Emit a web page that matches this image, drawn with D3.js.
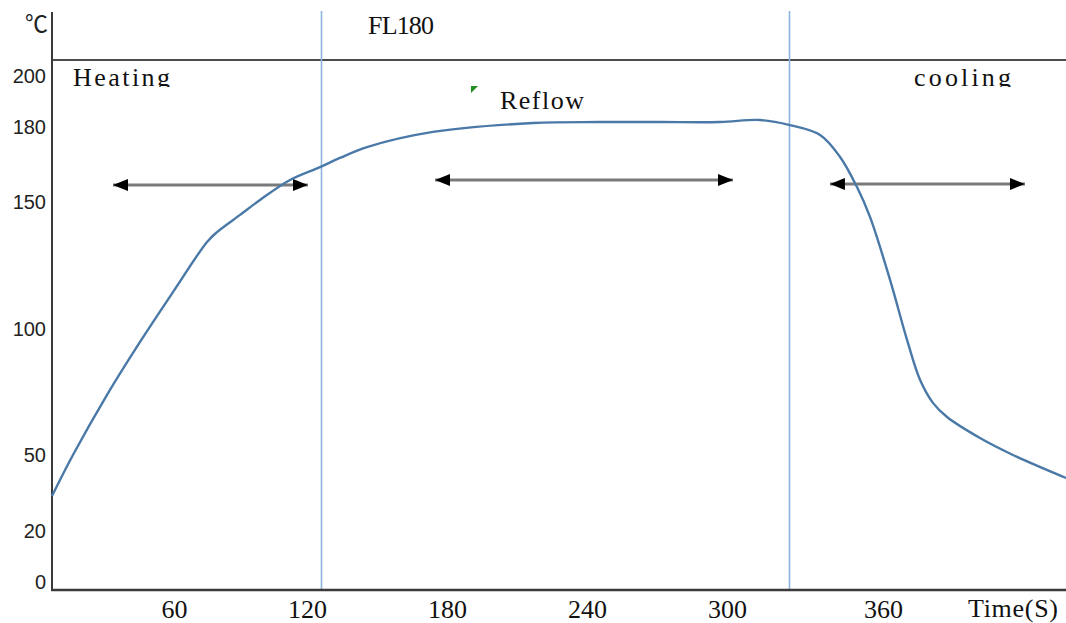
<!DOCTYPE html>
<html>
<head>
<meta charset="utf-8">
<script src="https://cdn.jsdelivr.net/npm/d3@7"></script>
<style>
    body { margin: 0; background: #fff; }
    svg { display: block; }
    .note { font-family: "Liberation Serif", "Times New Roman", serif; fill: #111; }
</style>
</head>
<body>
<div id="chart"></div>
<script>
// time (s) of the reflow profile and measured temperature (°C)
const timeSec = [0, 10.3, 27, 43.3, 59.5, 74.9, 79.4, 89.8, 98.8, 112.3, 125.6, 134.1, 145.7, 174,
    216.9, 245.6, 271.3, 297, 312.7, 324.2, 335.8, 343.5, 350, 355, 362.7, 369.2, 374.2, 379.1,
    384.5, 397.1, 409.7, 430];
const tempC = [34, 50.2, 73.9, 94.9, 114.6, 134.4, 138.3, 145.1, 151, 158.9, 164, 167.6, 171.9, 177.9,
    181.4, 181.8, 181.8, 181.8, 182.6, 180.6, 176.7, 168, 156.1, 144.3, 119.4, 95.7, 79.8, 70.8,
    65.2, 56.9, 50.2, 41.1];

const xTicks = [60, 120, 180, 240, 300, 360];
const yTicks = [0, 20, 50, 100, 150, 180, 200];

// zone boundaries (s)
const zoneBounds = [126, 324];

// zone arrows: start, end (s) and level (°C)
const arrowStart = [30, 174.9, 339.6];
const arrowEnd = [120.4, 302.3, 414.3];
const arrowLevel = [156.9, 158.9, 157.3];

const zoneNames = ["Heating", "Reflow", "cooling"];

const config = {
    width: 1066,
    height: 623,
    left: 52,
    bottom: 590,
    axisTop: 12,
    headLine: 60
};
const { width, height, left, bottom, axisTop, headLine } = config;

const svg = d3.select("#chart").append("svg")
    .attr("width", width)
    .attr("height", height);

// the original time axis is not evenly spaced, so the scale is piecewise
const x = d3.scaleLinear()
    .domain([0, 60, 120, 180, 240, 300, 360, 430])
    .range([52, 174, 307, 447, 587, 727, 883, 1066]);

const y = d3.scaleLinear()
    .domain([0, 200])
    .range([582, 76]);

// clip for the zone names, which are cut at their baseline in the original
svg.append("clipPath").attr("id", "nameClip")
    .append("rect").attr("x", left).attr("y", headLine).attr("width", width).attr("height", 27);

// frame lines
svg.append("line")
    .attr("x1", left).attr("x2", width).attr("y1", headLine).attr("y2", headLine)
    .attr("stroke", "#111").attr("stroke-width", 1.6);

svg.selectAll(".zone-line")
    .data(zoneBounds)
    .join("line")
    .attr("class", "zone-line")
    .attr("x1", d => Math.round(x(d)) + 0.5).attr("x2", d => Math.round(x(d)) + 0.5)
    .attr("y1", 11).attr("y2", bottom)
    .attr("stroke", "#8cb4df").attr("stroke-width", 1.6);

svg.append("line")
    .attr("x1", left).attr("x2", left).attr("y1", axisTop).attr("y2", bottom + 1)
    .attr("stroke", "#3a3a3a").attr("stroke-width", 2);

svg.append("line")
    .attr("x1", left - 1).attr("x2", width).attr("y1", bottom).attr("y2", bottom)
    .attr("stroke", "#3a3a3a").attr("stroke-width", 2.4);

// axes (labels only)
const yAxis = svg.append("g")
    .attr("transform", `translate(${left - 6},0)`)
    .call(d3.axisLeft(y).tickValues(yTicks).tickSize(0).tickPadding(0));
yAxis.select(".domain").remove();
yAxis.selectAll("text")
    .attr("font-family", "'Liberation Sans', Arial, sans-serif")
    .attr("font-size", 20)
    .attr("fill", "#222");

const xAxis = svg.append("g")
    .attr("transform", `translate(0,${bottom})`)
    .call(d3.axisBottom(x).tickValues(xTicks).tickSize(0).tickPadding(0));
xAxis.select(".domain").remove();
xAxis.selectAll("text")
    .attr("dy", null)
    .attr("y", 28)
    .attr("font-family", "'Liberation Serif', 'Times New Roman', serif")
    .attr("font-size", 26)
    .attr("fill", "#111");

// unit label
svg.append("text")
    .attr("x", 48).attr("y", 32)
    .attr("text-anchor", "end")
    .attr("font-family", "'Noto Sans CJK SC', 'DejaVu Sans', sans-serif")
    .attr("font-size", 23)
    .attr("fill", "#222")
    .text("℃");

// the original uses a fixed-pitch serif, so spread the letters to its width
function noteText(txt, xPos, yPos, len) {
    return svg.append("text")
        .attr("class", "note")
        .attr("x", xPos).attr("y", yPos)
        .attr("font-size", 26)
        .attr("textLength", len)
        .attr("lengthAdjust", "spacing")
        .text(txt);
}

noteText("FL180", 368, 34, 66);
noteText("Time(S)", 968, 617, 90);
noteText(zoneNames[0], 73, 86, 97).attr("clip-path", "url(#nameClip)");
noteText(zoneNames[1], 500, 109, 84);
noteText(zoneNames[2], 914, 86, 97).attr("clip-path", "url(#nameClip)");

// small green marker next to "Reflow"
svg.append("path")
    .attr("d", "M471,86 L478,86 L471,93 Z")
    .attr("fill", "#1f8f1f");

// arrows
const defs = svg.append("defs");
defs.append("marker")
    .attr("id", "head")
    .attr("viewBox", "0 0 15 12")
    .attr("refX", 15).attr("refY", 6)
    .attr("markerWidth", 15).attr("markerHeight", 12)
    .attr("markerUnits", "userSpaceOnUse")
    .attr("orient", "auto-start-reverse")
    .append("path")
    .attr("d", "M0,0 L15,6 L0,12 Z")
    .attr("fill", "#000");

svg.selectAll(".zone-arrow")
    .data(arrowStart.map((s, i) => ({ s, e: arrowEnd[i], v: arrowLevel[i] })))
    .join("line")
    .attr("class", "zone-arrow")
    .attr("x1", d => x(d.s)).attr("x2", d => x(d.e))
    .attr("y1", d => y(d.v)).attr("y2", d => y(d.v))
    .attr("stroke", "#7a7a7a").attr("stroke-width", 3)
    .attr("marker-start", "url(#head)")
    .attr("marker-end", "url(#head)");

// profile curve
const line = d3.line()
    .x(d => x(d[0]))
    .y(d => y(d[1]))
    .curve(d3.curveCatmullRom.alpha(0.5));

svg.append("path")
    .datum(timeSec.map((t, i) => [t, tempC[i]]))
    .attr("d", line)
    .attr("fill", "none")
    .attr("stroke", "#4a79a8")
    .attr("stroke-width", 2.4);
</script>
</body>
</html>
